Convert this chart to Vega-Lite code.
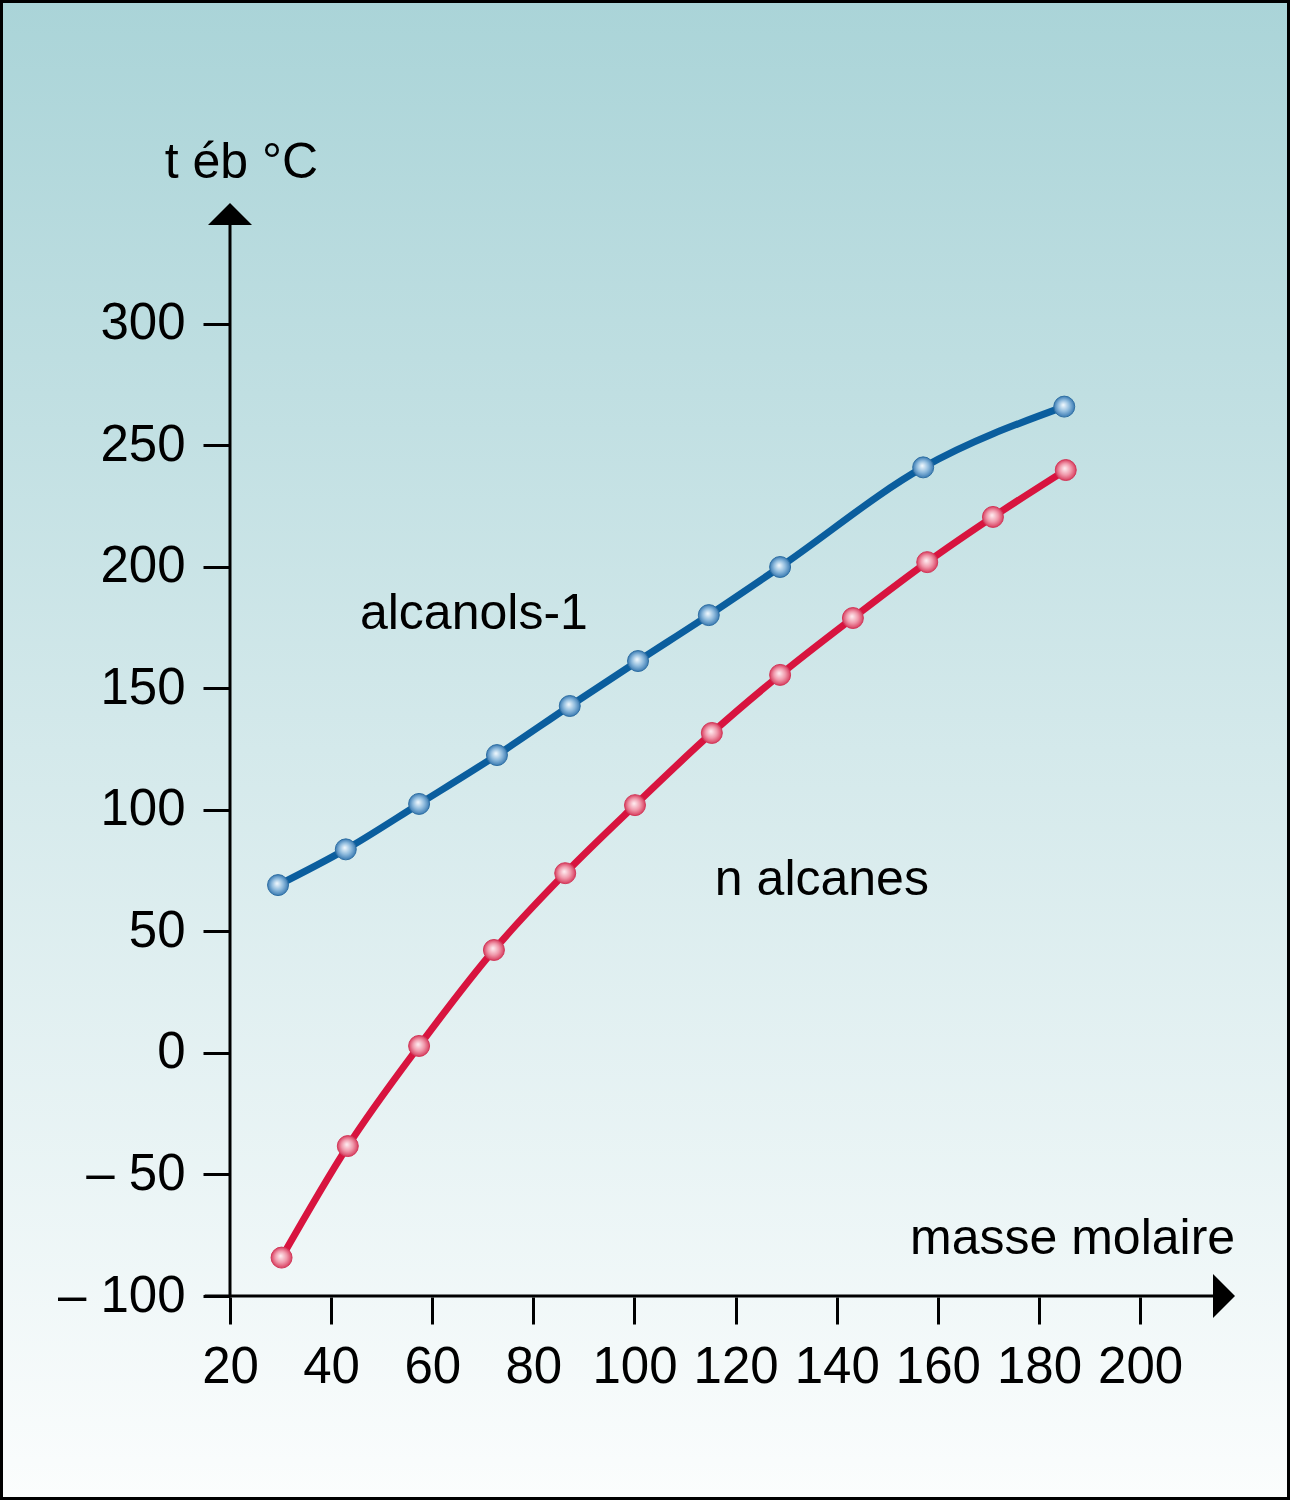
{
  "$schema": "https://vega.github.io/schema/vega-lite/v6.json",
  "width": 1290,
  "height": 1500,
  "autosize": {"type": "none"},
  "padding": 0,
  "config": {
    "font": "Liberation Sans",
    "view": {
      "fill": {"gradient": "linear", "x1": 0, "y1": 0, "x2": 0, "y2": 1,
        "stops": [{"offset": 0, "color": "#aad4d8"}, {"offset": 0.5, "color": "#d4e9eb"}, {"offset": 1, "color": "#fbfdfd"}]},
      "stroke": "#000",
      "strokeWidth": 6
    }
  },
  "resolve": {"axis": {"x": "independent", "y": "independent"}},
  "datasets": {
    "courbes": [
      {"serie": "alcanols-1", "masse": 29.5, "teb": 69.1},
      {"serie": "alcanols-1", "masse": 42.9, "teb": 83.8},
      {"serie": "alcanols-1", "masse": 57.4, "teb": 102.5},
      {"serie": "alcanols-1", "masse": 72.8, "teb": 122.6},
      {"serie": "alcanols-1", "masse": 87.2, "teb": 142.8},
      {"serie": "alcanols-1", "masse": 100.7, "teb": 161.3},
      {"serie": "alcanols-1", "masse": 114.7, "teb": 180.2},
      {"serie": "alcanols-1", "masse": 128.8, "teb": 200.0},
      {"serie": "alcanols-1", "masse": 157.1, "teb": 241.0},
      {"serie": "alcanols-1", "masse": 185.0, "teb": 266.0},
      {"serie": "n alcanes", "masse": 30.2, "teb": -84.2},
      {"serie": "n alcanes", "masse": 43.3, "teb": -38.3},
      {"serie": "n alcanes", "masse": 57.4, "teb": 2.9},
      {"serie": "n alcanes", "masse": 72.2, "teb": 42.4},
      {"serie": "n alcanes", "masse": 86.3, "teb": 74.0},
      {"serie": "n alcanes", "masse": 100.1, "teb": 102.0},
      {"serie": "n alcanes", "masse": 115.3, "teb": 131.7},
      {"serie": "n alcanes", "masse": 128.8, "teb": 155.6},
      {"serie": "n alcanes", "masse": 143.2, "teb": 179.0},
      {"serie": "n alcanes", "masse": 157.9, "teb": 202.0},
      {"serie": "n alcanes", "masse": 170.9, "teb": 220.6},
      {"serie": "n alcanes", "masse": 185.3, "teb": 239.9}
    ],
    "un": [{}]
  },
  "layer": [
    {
      "data": {"name": "courbes"},
      "mark": {"type": "line", "interpolate": "monotone", "strokeWidth": 7},
      "encoding": {
        "x": {"field": "masse", "type": "quantitative",
          "scale": {"domain": [-25.49, 229.65], "nice": false, "zero": false},
          "axis": {"orient": "bottom", "offset": -203, "values": [20, 40, 60, 80, 100, 120, 140, 160, 180, 200],
            "domain": false, "grid": false, "tickSize": 27, "tickWidth": 3, "tickColor": "#000",
            "labelFontSize": 51, "labelColor": "#000", "labelPadding": 18, "labelFlush": false, "labelOverlap": false, "title": null}},
        "y": {"field": "teb", "type": "quantitative",
          "scale": {"domain": [-183.95, 433.33], "nice": false, "zero": false},
          "axis": {"orient": "left", "offset": -230, "values": [-100, -50, 0, 50, 100, 150, 200, 250, 300],
            "domain": false, "grid": false, "tickSize": 27, "tickWidth": 3, "tickColor": "#000",
            "labelFontSize": 51, "labelColor": "#000", "labelPadding": 18, "labelFlush": false, "labelOverlap": false,
            "labelExpr": "datum.value < 0 ? '– ' + abs(datum.value) : datum.label", "title": null}},
        "color": {"field": "serie", "type": "nominal",
          "scale": {"domain": ["alcanols-1", "n alcanes"], "range": ["#0b5e9e", "#d8143f"]}, "legend": null}
      }
    },
    {
      "data": {"name": "courbes"},
      "transform": [{"filter": "datum.serie === 'alcanols-1'"}],
      "mark": {"type": "point", "filled": true, "size": 441, "opacity": 1, "stroke": "#2f6fa3", "strokeWidth": 1,
        "fill": {"gradient": "radial", "x1": 0.45, "y1": 0.42, "r1": 0, "x2": 0.5, "y2": 0.5, "r2": 0.5,
          "stops": [{"offset": 0, "color": "#f4fbff"}, {"offset": 0.55, "color": "#8fbbdd"}, {"offset": 1, "color": "#3a7ab2"}]}},
      "encoding": {
        "x": {"field": "masse", "type": "quantitative", "axis": null},
        "y": {"field": "teb", "type": "quantitative", "axis": null}
      }
    },
    {
      "data": {"name": "courbes"},
      "transform": [{"filter": "datum.serie === 'n alcanes'"}],
      "mark": {"type": "point", "filled": true, "size": 441, "opacity": 1, "stroke": "#d2395a", "strokeWidth": 1,
        "fill": {"gradient": "radial", "x1": 0.45, "y1": 0.42, "r1": 0, "x2": 0.5, "y2": 0.5, "r2": 0.5,
          "stops": [{"offset": 0, "color": "#fff0f3"}, {"offset": 0.55, "color": "#f09aac"}, {"offset": 1, "color": "#d83e5f"}]}},
      "encoding": {
        "x": {"field": "masse", "type": "quantitative", "axis": null},
        "y": {"field": "teb", "type": "quantitative", "axis": null}
      }
    },
    {
      "data": {"name": "un"},
      "mark": {"type": "rule", "color": "#000", "strokeWidth": 3},
      "encoding": {
        "x": {"datum": 20, "type": "quantitative", "axis": null},
        "y": {"datum": -100, "type": "quantitative", "axis": null},
        "y2": {"datum": 342}
      }
    },
    {
      "data": {"name": "un"},
      "mark": {"type": "rule", "color": "#000", "strokeWidth": 3},
      "encoding": {
        "x": {"datum": 15, "type": "quantitative", "axis": null},
        "x2": {"datum": 216},
        "y": {"datum": -100, "type": "quantitative", "axis": null}
      }
    },
    {
      "data": {"name": "un"},
      "mark": {"type": "point", "shape": "M0,-0.5L1,0.5L-1,0.5Z", "filled": true, "color": "#000", "opacity": 1, "size": 1936},
      "encoding": {
        "x": {"datum": 20, "type": "quantitative", "axis": null},
        "y": {"datum": 345.3, "type": "quantitative", "axis": null}
      }
    },
    {
      "data": {"name": "un"},
      "mark": {"type": "point", "shape": "M0.5,0L-0.5,-1L-0.5,1Z", "filled": true, "color": "#000", "opacity": 1, "size": 1936},
      "encoding": {
        "x": {"datum": 216.6, "type": "quantitative", "axis": null},
        "y": {"datum": -100, "type": "quantitative", "axis": null}
      }
    },
    {
      "data": {"name": "un"},
      "mark": {"type": "text", "text": "t éb °C", "align": "left", "baseline": "alphabetic", "fontSize": 50, "color": "#000"},
      "encoding": {
        "x": {"datum": 7.1, "type": "quantitative", "axis": null},
        "y": {"datum": 360.1, "type": "quantitative", "axis": null}
      }
    },
    {
      "data": {"name": "un"},
      "mark": {"type": "text", "text": "masse molaire", "align": "left", "baseline": "alphabetic", "fontSize": 50, "color": "#000"},
      "encoding": {
        "x": {"datum": 154.5, "type": "quantitative", "axis": null},
        "y": {"datum": -82.7, "type": "quantitative", "axis": null}
      }
    },
    {
      "data": {"name": "un"},
      "mark": {"type": "text", "text": "alcanols-1", "align": "left", "baseline": "alphabetic", "fontSize": 50, "color": "#000"},
      "encoding": {
        "x": {"datum": 45.7, "type": "quantitative", "axis": null},
        "y": {"datum": 174.5, "type": "quantitative", "axis": null}
      }
    },
    {
      "data": {"name": "un"},
      "mark": {"type": "text", "text": "n alcanes", "align": "left", "baseline": "alphabetic", "fontSize": 50, "color": "#000"},
      "encoding": {
        "x": {"datum": 115.9, "type": "quantitative", "axis": null},
        "y": {"datum": 65.0, "type": "quantitative", "axis": null}
      }
    }
  ]
}
